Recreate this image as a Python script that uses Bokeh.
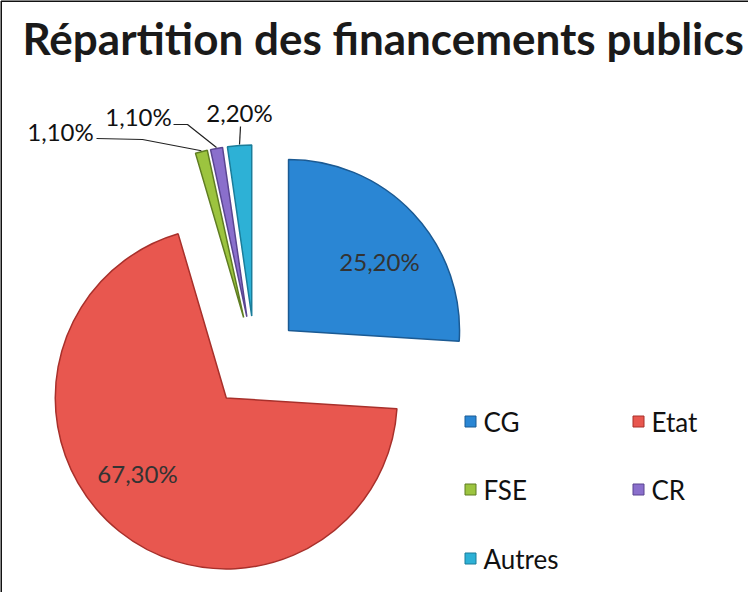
import math
from bokeh.plotting import figure
from bokeh.models import Range1d
from bokeh.core.properties import value
from bokeh.embed import file_html
from bokeh.resources import INLINE

# ---- data ----
categories = ["CG", "Etat", "FSE", "CR", "Autres"]
values = [25.2, 67.3, 1.1, 1.1, 2.2]
labels = ["25,20%", "67,30%", "1,10%", "1,10%", "2,20%"]
colors = ["#2a86d4", "#e8574f", "#9cc43f", "#8a6fcc", "#2db1d6"]
edges = ["#1b5a93", "#a8302b", "#5f7d22", "#5a4590", "#1a7d9a"]
title_text = "Répartition des financements publics"

W, H = 748, 592
p = figure(width=W, height=H, x_range=Range1d(0, W), y_range=Range1d(0, H),
           output_backend="svg", toolbar_location=None, min_border=0)
p.axis.visible = False
p.grid.visible = False
p.outline_line_color = None
p.background_fill_color = "white"
p.border_fill_color = "white"

def X(ix):
    return ix - 8
def Y(iy):
    return 600 - iy

# frame lines (top & left)
p.line([X(8.5), X(756)], [Y(8.5), Y(8.5)], line_color="#111111", line_width=2)
p.line([X(8.5), X(8.5)], [Y(8.5), Y(600)], line_color="#111111", line_width=2)

# title
p.text(x=[X(30)], y=[Y(45)], text=[title_text], text_font=value("Lato"),
       text_font_style="bold", text_font_size="44px", text_color="#1a1a1a",
       text_align="left", text_baseline="middle")

# pie geometry
cx, cy = 262.5, 369.5   # image coords of pie centre
R = 171
EXPL = 46
total = sum(values)
theta = 0.0
corners = []
mids = []
for v, c, e in zip(values, colors, edges):
    span = v / total * 360.0
    t1, t2 = theta, theta + span
    tm = math.radians((t1 + t2) / 2)
    dx, dy = math.sin(tm), -math.cos(tm)   # image direction
    px_, py_ = cx + EXPL * dx, cy + EXPL * dy
    corners.append((px_, py_))
    mids.append((dx, dy))
    p.wedge(x=[X(px_)], y=[Y(py_)], radius=R,
            start_angle=math.radians(90 - t2), end_angle=math.radians(90 - t1),
            fill_color=c, line_color=e, line_width=1.5)
    theta = t2

# inside labels
inside_pos = [(387, 269), (145, 481)]
for i, (lx, ly) in enumerate(inside_pos):
    p.text(x=[X(lx)], y=[Y(ly)], text=[labels[i]], text_font=value("Lato"),
           text_font_size="24px", text_color="#333333",
           text_align="center", text_baseline="middle")

# outside labels with leaders
out_pos = [(68, 139), (146, 124), (247, 120)]
leader_start = [[(104, 146), (150, 147)], [(181, 132), (195, 132)], [(248, 134)]]
for k, i in enumerate([2, 3, 4]):
    lx, ly = out_pos[k]
    p.text(x=[X(lx)], y=[Y(ly)], text=[labels[i]], text_font=value("Lato"),
           text_font_size="24px", text_color="#111111",
           text_align="center", text_baseline="middle")
    ex = corners[i][0] + R * mids[i][0]
    ey = corners[i][1] + R * mids[i][1]
    pts = leader_start[k] + [(ex, ey - 1)]
    p.line([X(a) for a, b in pts], [Y(b) for a, b in pts], line_color="#222222", line_width=1.2)

# legend
leg_pos = [(478, 429), (646, 429), (478, 497), (646, 497), (478, 566)]
for i, (mx, my) in enumerate(leg_pos):
    p.scatter(x=[X(mx)], y=[Y(my)], marker="square", size=11,
              fill_color=colors[i], line_color=edges[i], line_width=1)
    p.text(x=[X(mx + 13)], y=[Y(my)], text=[categories[i]], text_font=value("Lato"),
           text_font_size="26px", text_color="#111111",
           text_align="left", text_baseline="middle")

open("out.html", "w").write(file_html(p, INLINE))
